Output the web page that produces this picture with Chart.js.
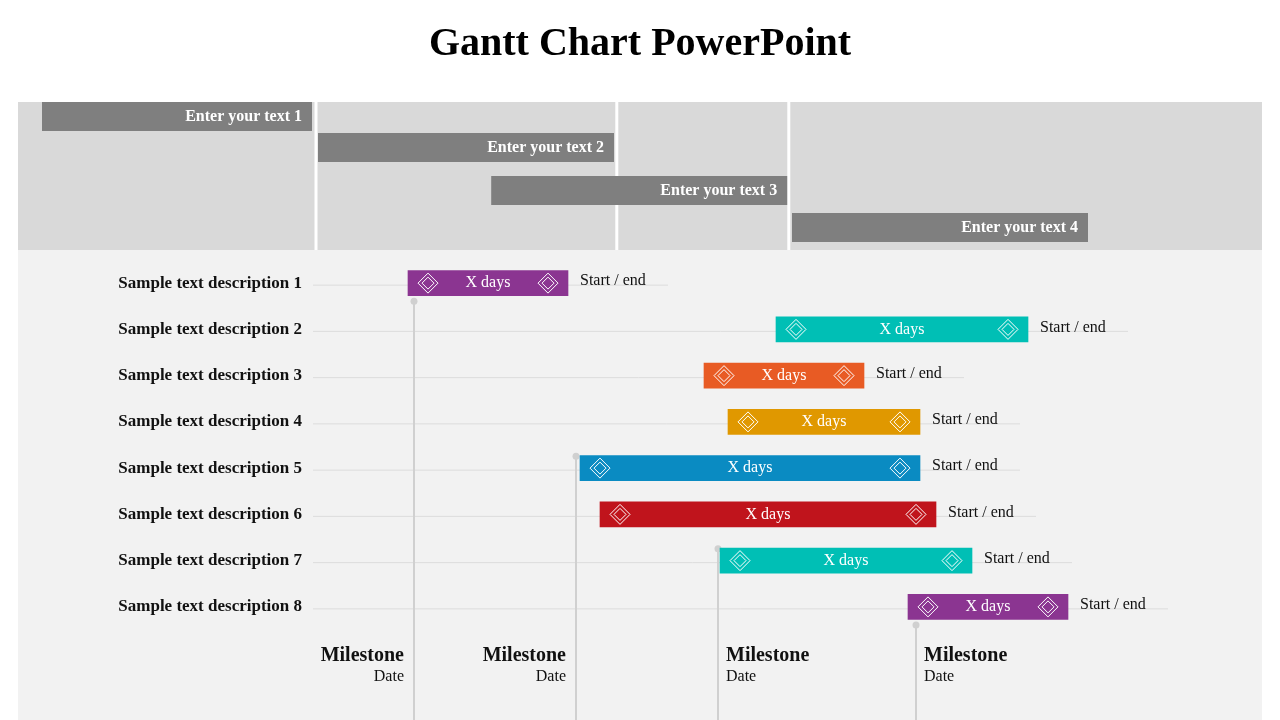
<!DOCTYPE html>
<html>
<head>
<meta charset="utf-8">
<script src="https://cdn.jsdelivr.net/npm/chart.js@4.4.0/dist/chart.umd.min.js"></script>
<style>
  body { margin: 0; background: #fff; }
  #wrap { width: 1280px; height: 720px; }
</style>
</head>
<body>
<div id="wrap"><canvas id="gantt" width="1280" height="720"></canvas></div>
<script>
// timeline units (1 unit = one step on the slide's time axis)
var tasks = ['Sample text description 1', 'Sample text description 2', 'Sample text description 3', 'Sample text description 4',
             'Sample text description 5', 'Sample text description 6', 'Sample text description 7', 'Sample text description 8'];
var taskStart = [51, 97, 88, 91, 72.5, 75, 90, 113.5];
var taskEnd = [71, 128.5, 108, 115, 115, 117, 121.5, 133.5];
var taskColors = ['#8B3591', '#00BFB5', '#E85B24', '#E09800', '#0A8BC2', '#C0141C', '#00BFB5', '#8B3591'];
var barText = 'X days';
var endText = 'Start / end';

var phases = ['Enter your text 1', 'Enter your text 2', 'Enter your text 3', 'Enter your text 4'];
var phaseStart = [5.25, 39.75, 61.4, 99];
var phaseEnd = [39, 76.75, 98.4, 136];
var phaseDividers = [39.5, 77.1, 98.6];

var milestones = ['Milestone', 'Milestone', 'Milestone', 'Milestone'];
var milestoneSub = ['Date', 'Date', 'Date', 'Date'];
var milestoneAt = [51.75, 72, 89.75, 114.5];
var milestoneRow = [0, 4, 6, 7];   // row the milestone line starts from
var milestoneBelow = [true, false, false, true];

var serif = '"Liberation Serif", "DejaVu Serif", serif';

function diamond(ctx, x, y, r) {
    ctx.beginPath();
    ctx.moveTo(x, y - r); ctx.lineTo(x + r, y); ctx.lineTo(x, y + r); ctx.lineTo(x - r, y);
    ctx.closePath(); ctx.stroke();
}

var slidePlugin = {
    id: 'slide',
    beforeDatasetsDraw: function (chart) {
        var ctx = chart.ctx, xs = chart.scales.x, ys = chart.scales.y;
        ctx.save();
        ctx.fillStyle = '#f2f2f2';
        ctx.fillRect(18, 250, 1244, 470);
        ctx.fillStyle = '#d9d9d9';
        ctx.fillRect(18, 102, 1244, 148);
        ctx.fillStyle = '#ffffff';
        phaseDividers.forEach(function (d) { ctx.fillRect(xs.getPixelForValue(d) - 1.5, 102, 3, 148); });
        // row guide lines
        ctx.strokeStyle = '#dcdcdc'; ctx.lineWidth = 1;
        tasks.forEach(function (t, i) {
            var y = ys.getPixelForValue(i) + 2;
            ctx.beginPath(); ctx.moveTo(313, y); ctx.lineTo(xs.getPixelForValue(taskEnd[i]) + 100, y); ctx.stroke();
        });
        // milestone lines
        ctx.strokeStyle = '#d0d0d0'; ctx.lineWidth = 2; ctx.fillStyle = '#d0d0d0';
        milestoneAt.forEach(function (m, i) {
            var x = xs.getPixelForValue(m);
            var yc = ys.getPixelForValue(milestoneRow[i]);
            var top = milestoneBelow[i] ? yc + 18 : yc - 12;
            ctx.beginPath(); ctx.moveTo(x, top); ctx.lineTo(x, 720); ctx.stroke();
            ctx.beginPath(); ctx.arc(x, top, 3.5, 0, Math.PI * 2); ctx.fill();
        });
        ctx.restore();
    },
    afterDatasetsDraw: function (chart) {
        var ctx = chart.ctx, xs = chart.scales.x, ys = chart.scales.y;
        ctx.save();
        ctx.textBaseline = 'middle';
        tasks.forEach(function (t, i) {
            var y = ys.getPixelForValue(i);
            var x0 = xs.getPixelForValue(taskStart[i]), x1 = xs.getPixelForValue(taskEnd[i]);
            ctx.fillStyle = '#111'; ctx.font = 'bold 17px ' + serif; ctx.textAlign = 'right';
            ctx.fillText(t, 302, y);
            ctx.fillStyle = '#fff'; ctx.font = '16px ' + serif; ctx.textAlign = 'center';
            ctx.fillText(barText, (x0 + x1) / 2, y);
            ctx.strokeStyle = '#fff'; ctx.lineWidth = 1;
            [x0 + 20, x1 - 20].forEach(function (dx) { diamond(ctx, dx, y, 10); diamond(ctx, dx, y, 6); });
            ctx.fillStyle = '#111'; ctx.textAlign = 'left';
            ctx.fillText(endText, x1 + 12, y - 2);
        });
        // phase header bars
        var phaseTop = [102, 133, 176, 213];
        phases.forEach(function (p, i) {
            var x0 = xs.getPixelForValue(phaseStart[i]), x1 = xs.getPixelForValue(phaseEnd[i]);
            ctx.fillStyle = '#7f7f7f';
            ctx.fillRect(x0, phaseTop[i], x1 - x0, 29);
            ctx.fillStyle = '#fff'; ctx.font = 'bold 16px ' + serif; ctx.textAlign = 'right';
            ctx.fillText(p, x1 - 10, phaseTop[i] + 15);
        });
        // milestone labels
        milestones.forEach(function (m, i) {
            var x = xs.getPixelForValue(milestoneAt[i]);
            var left = i >= 2;
            ctx.fillStyle = '#111'; ctx.textAlign = left ? 'left' : 'right';
            var tx = left ? x + 8 : x - 10;
            ctx.font = 'bold 20px ' + serif;
            ctx.fillText(m, tx, 656);
            ctx.font = '16px ' + serif;
            ctx.fillText(milestoneSub[i], tx, 677);
        });
        ctx.fillStyle = '#000'; ctx.textAlign = 'center'; ctx.font = 'bold 40px ' + serif;
        ctx.fillText('Gantt Chart PowerPoint', 640, 45);
        ctx.restore();
    }
};

new Chart(document.getElementById('gantt').getContext('2d'), {
    type: 'bar',
    data: {
        labels: tasks,
        datasets: [{
            data: taskStart.map(function (s, i) { return [s, taskEnd[i]]; }),
            backgroundColor: taskColors,
            borderWidth: 0,
            borderSkipped: false,
            barThickness: 25
        }]
    },
    options: {
        indexAxis: 'y',
        responsive: false,
        animation: false,
        layout: { padding: { top: 260, bottom: 90, left: 0, right: 0 } },
        plugins: { legend: { display: false }, tooltip: { enabled: false } },
        scales: {
            x: { type: 'linear', min: 0, max: 160, display: false },
            y: { display: false, offset: true }
        }
    },
    plugins: [slidePlugin]
});
</script>
</body>
</html>
